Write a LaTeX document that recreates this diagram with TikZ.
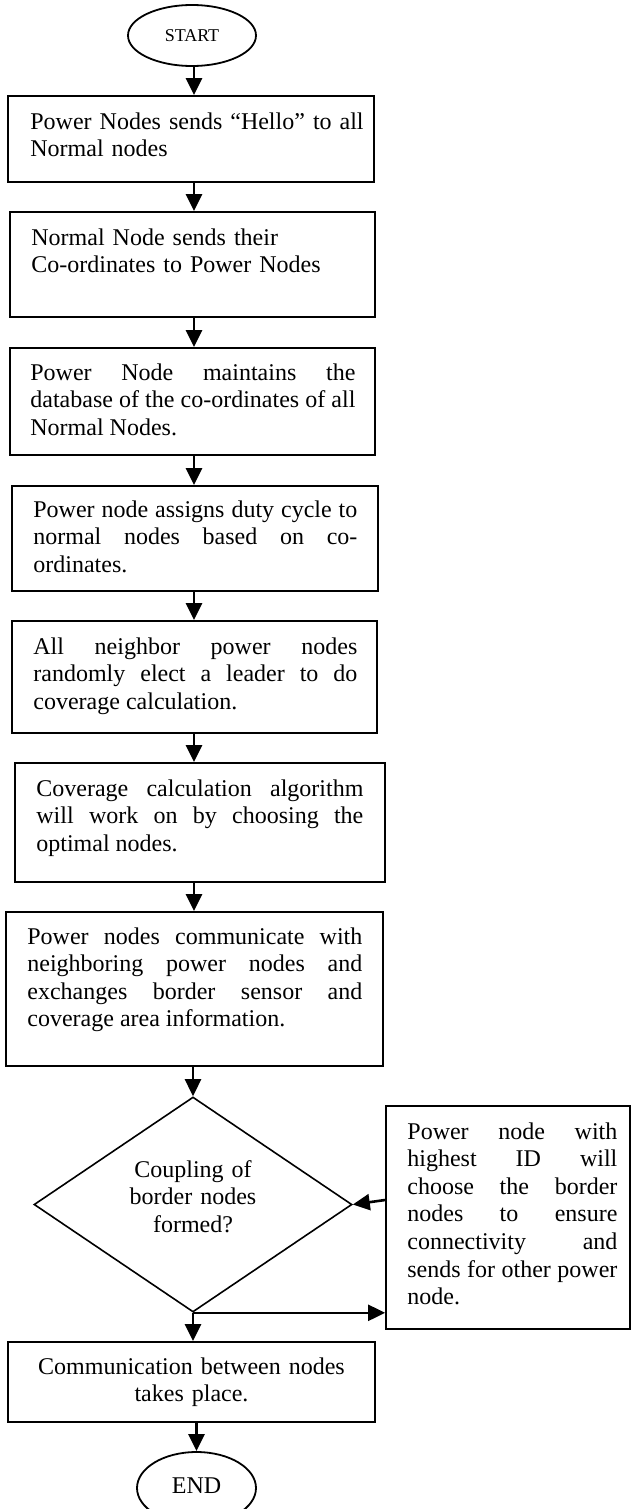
\documentclass[tikz,border=0pt]{standalone}
\usepackage{fontspec}
\setmainfont{Liberation Serif}
\usetikzlibrary{shapes.geometric,arrows.meta,fit,calc}
\tolerance=10000
\hbadness=10000
\begin{document}
\begin{tikzpicture}[x=0.5pt,y=-0.5pt,
  box/.style={draw,line width=0.9pt,inner sep=0pt,rectangle},
  term/.style={draw,ellipse,line width=0.9pt,inner sep=0pt},
  txt/.style={inner sep=0pt,anchor=base west,align=justify,
              font=\fontsize{12}{13.8}\selectfont},
  ctxt/.style={inner sep=0pt,anchor=base,align=center,
              font=\fontsize{12}{13.8}\selectfont},
  arr/.style={line width=1.3pt,-{Triangle[length=8.5pt,width=8pt]}}]
\useasboundingbox (0,0) rectangle (632,1509);

% terminals
\node[term,minimum width=64pt,minimum height=30.5pt,
      font=\fontsize{9}{10}\selectfont] (start) at (192,35.5) {START};
\node[term,minimum width=59.5pt,minimum height=36pt,
      font=\fontsize{12}{14}\selectfont] (end) at (196.5,1488) {\raisebox{2pt}{END}};

% process boxes
\node[box,fit={(8,96) (374,182)}] (b1) {};
\node[txt,text width=172pt,align=left] (t1) at (30,129)
  {Power Nodes sends “Hello” to all\\Normal nodes};

\node[box,fit={(10,212) (375,317)}] (b2) {};
\node[txt,text width=172pt,align=left] (t2) at (31,245)
  {Normal Node sends their\\Co-ordinates to Power Nodes};

\node[box,fit={(10,348) (375,455)}] (b3) {};
\node[txt,text width=162.5pt] (t3) at (30,380)
  {Power Node maintains the\linebreak database of the co-ordinates of all\linebreak Normal Nodes.};

\node[box,fit={(12,486) (378,591)}] (b4) {};
\node[txt,text width=162pt] (t4) at (33,517)
  {Power node assigns duty cycle to\linebreak normal nodes based on co-\linebreak ordinates.};

\node[box,fit={(12,621) (377,733)}] (b5) {};
\node[txt,text width=162pt] (t5) at (33,654)
  {All neighbor power nodes\linebreak randomly elect a leader to do\linebreak coverage calculation.};

\node[box,fit={(15,763) (385,882)}] (b6) {};
\node[txt,text width=163.5pt] (t6) at (36,796)
  {Coverage calculation algorithm\linebreak will work on by choosing the\linebreak optimal nodes.};

\node[box,fit={(6,912) (383,1066)}] (b7) {};
\node[txt,text width=167.5pt] (t7) at (27,944)
  {Power nodes communicate with\linebreak neighboring power nodes and\linebreak exchanges border sensor and\linebreak coverage area information.};

% decision
\node[draw,diamond,line width=0.8pt,inner sep=0pt,
      minimum width=159pt,minimum height=107.5pt] (dia) at (193,1204.5) {};
\node[ctxt,text width=110pt] (dq) at (193,1177)
  {Coupling of\\border nodes\\formed?};

% side box
\node[box,fit={(386,1106) (630,1329)}] (side) {};
\node[txt,text width=105pt] (ts) at (407,1139)
  {Power node with\linebreak highest ID will\linebreak choose the border\linebreak nodes to ensure\linebreak connectivity and\linebreak sends for other power\linebreak node.};

% final box
\node[box,fit={(8,1342) (375,1422)}] (b8) {};
\node[ctxt,text width=170pt] (t8) at (191.5,1374)
  {Communication between nodes\\takes place.};

% connectors
\coordinate (ax) at (194,0);
\draw[arr] (start.south -| ax) -- (b1.north -| ax);
\draw[arr] (b1.south -| ax) -- (b2.north -| ax);
\draw[arr] (b2.south -| ax) -- (b3.north -| ax);
\draw[arr] (b3.south -| ax) -- (b4.north -| ax);
\draw[arr] (b4.south -| ax) -- (b5.north -| ax);
\draw[arr] (b5.south -| ax) -- (b6.north -| ax);
\draw[arr] (b6.south -| ax) -- (b7.north -| ax);
\draw[arr] (b7.south -| dia.north) -- (dia.north);
\draw[arr] ([yshift=8.75pt]side.west) -- (dia.east);
\draw[arr] (dia.south) -- (side.west |- dia.south);
\draw[arr] (dia.south) -- (b8.north -| dia.south);
\draw[arr] (b8.south -| end.north) -- (end.north);
\end{tikzpicture}
\end{document}
